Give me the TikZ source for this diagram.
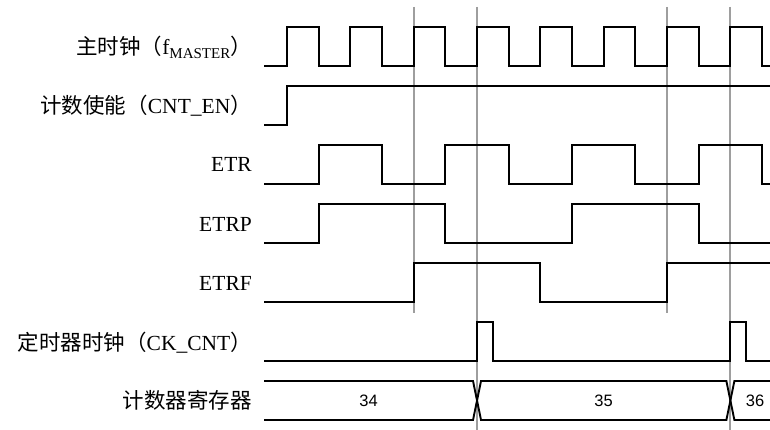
\documentclass[tikz,border=0pt]{standalone}
\usepackage{fontspec}
\setmainfont{Liberation Serif}
\newfontfamily\cjk{Noto Sans CJK SC}
\newfontfamily\busfont{Liberation Sans}
\usetikzlibrary{calc}

\begin{document}
\begin{tikzpicture}[
  x=1pt, y=-1pt,
  sig/.style={draw, line width=1.9pt, line join=miter},
  guide/.style={draw=black!38, line width=1.9pt},
  lbl/.style={anchor=base east, inner sep=0pt, font=\fontsize{21.5}{25}\selectfont},
  val/.style={inner sep=0pt, font=\busfont\fontsize{16.5}{18}\selectfont},
  declare function={tx(\n)=287+31.67*\n;}
]
  \useasboundingbox (0,0) rectangle (770,430);

  % guide lines
  \foreach \n in {4,12} \draw[guide] ({tx(\n)},7) -- ({tx(\n)},313);
  \foreach \n in {6,14} \draw[guide] ({tx(\n)},7) -- ({tx(\n)},430);

  % labels
  \node[lbl] (clk) at (252,55) {{\cjk 主时钟（}f\raisebox{-0.35ex}{\fontsize{15}{15}\selectfont MASTER}{\cjk ）}};
  \node[lbl] (cnten) at (252,114) {{\cjk 计数使能（}CNT\_EN{\cjk ）}};
  \node[lbl] (etr) at (252,172) {ETR};
  \node[lbl] (etrp) at (252,231) {ETRP};
  \node[lbl] (etrf) at (252,290) {ETRF};
  \node[lbl] (ckcnt) at (252,350) {{\cjk 定时器时钟（}CK\_CNT{\cjk ）}};
  \node[lbl] (cntreg) at (252,408) {{\cjk 计数器寄存器}};

  % master clock
  \draw[sig] (264,66) \foreach \k in {0,2,...,14}{
    -- ({tx(\k)},66) -- ({tx(\k)},27) -- ({tx(\k+1)},27) -- ({tx(\k+1)},66)} -- (770,66);

  % counter enable
  \draw[sig] (264,125) -- ({tx(0)},125) -- ({tx(0)},86) -- (770,86);

  % ETR
  \draw[sig] (264,184) \foreach \k in {1,5,9,13}{
    -- ({tx(\k)},184) -- ({tx(\k)},145) -- ({tx(\k+2)},145) -- ({tx(\k+2)},184)} -- (770,184);

  % ETRP
  \draw[sig] (264,243) \foreach \k in {1,9}{
    -- ({tx(\k)},243) -- ({tx(\k)},204) -- ({tx(\k+4)},204) -- ({tx(\k+4)},243)} -- (770,243);

  % ETRF
  \draw[sig] (264,302) -- ({tx(4)},302) -- ({tx(4)},263) -- ({tx(8)},263) -- ({tx(8)},302)
    -- ({tx(12)},302) -- ({tx(12)},263) -- (770,263);

  % CK_CNT
  \draw[sig] (264,361) \foreach \k in {6,14}{
    -- ({tx(\k)},361) -- ({tx(\k)},322) -- ({tx(\k+0.5)},322) -- ({tx(\k+0.5)},361)} -- (770,361);

  % counter register
  \draw[sig] (264,381) -- ({tx(6)-4},381) -- ({tx(6)+4},420) -- ({tx(14)-4},420)
    -- ({tx(14)+4},381) -- (770,381);
  \draw[sig] (264,420) -- ({tx(6)-4},420) -- ({tx(6)+4},381) -- ({tx(14)-4},381)
    -- ({tx(14)+4},420) -- (770,420);
  \node[val] (v34) at (368.5,400.5) {34};
  \node[val] (v35) at (603.5,400.5) {35};
  \node[val] (v36) at (755,400.5) {36};
\end{tikzpicture}
\end{document}
